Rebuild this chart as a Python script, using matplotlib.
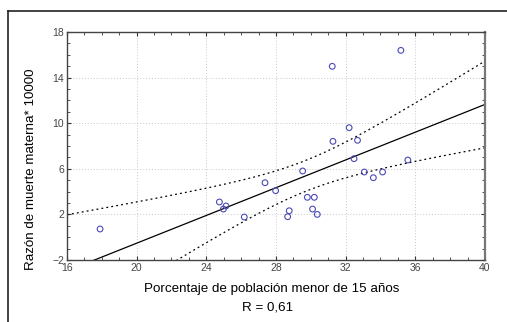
import numpy as np
import matplotlib
matplotlib.use("Agg")
import matplotlib.pyplot as plt
from matplotlib.ticker import MultipleLocator
from matplotlib.lines import Line2D

plt.rcParams['font.family'] = ['Liberation Sans', 'DejaVu Sans']

# porcentaje de poblacion menor de 15 anos / razon de muerte materna
pct = [17.9, 24.75, 24.98, 25.13, 26.18, 27.37, 27.98, 28.67, 28.76, 29.53,
       29.80, 30.10, 30.20, 30.37, 31.23, 31.27, 32.20, 32.48, 32.68, 33.07,
       33.59, 34.12, 35.17, 35.57]
razon = [0.72, 3.09, 2.47, 2.74, 1.77, 4.78, 4.08, 1.80, 2.32, 5.81,
         3.50, 2.47, 3.50, 2.00, 14.99, 8.41, 9.61, 6.89, 8.50, 5.72,
         5.22, 5.72, 16.39, 6.77]
xticks = [16, 20, 24, 28, 32, 36, 40]
yticks = [-2, 2, 6, 10, 14, 18]

x = np.array(pct)
y = np.array(razon)
n = len(x)
b, a = np.polyfit(x, y, 1)
resid = y - (a + b * x)
s = np.sqrt(np.sum(resid ** 2) / (n - 2))
t95 = 2.074  # t(0.975, 22)
xs = np.linspace(16, 40, 200)
fit = a + b * xs
se = s * np.sqrt(1 / n + (xs - x.mean()) ** 2 / np.sum((x - x.mean()) ** 2))

fig = plt.figure(figsize=(5.07, 3.22), dpi=100)
ax = fig.add_axes([0.1321, 0.1925, 0.8245, 0.7081])

ax.plot(xs, fit, color='black', lw=0.9)
ax.plot(xs, fit + t95 * se, color='black', lw=0.9, ls=(0, (1.5, 2.5)))
ax.plot(xs, fit - t95 * se, color='black', lw=0.9, ls=(0, (1.5, 2.5)))
ax.scatter(x, y, s=17, facecolors='none', edgecolors='#4a4ab4', linewidths=0.8, zorder=3)

ax.set_xlim(16, 40)
ax.set_ylim(-2, 18)
ax.set_xticks(xticks)
ax.set_yticks(yticks)
ax.xaxis.set_minor_locator(MultipleLocator(1))
ax.yaxis.set_minor_locator(MultipleLocator(1))
ax.grid(True, which='major', color='#c8c8c8', ls=(0, (1, 2)), lw=0.7)
ax.tick_params(which='both', direction='in', top=True, right=True, color='#333333')
ax.tick_params(which='major', length=3, labelsize=7.5, labelcolor='#444444', pad=2)
ax.tick_params(which='minor', length=2)
for sp in ax.spines.values():
    sp.set_color('#444444')
    sp.set_linewidth(1.0)
ax.spines['right'].set_linewidth(1.6)
ax.spines['right'].set_color('#777777')

ax.set_xlabel('Porcentaje de población menor de 15 años', fontsize=9.6, va='center')
ax.xaxis.set_label_coords(0.49, -0.127)
ax.set_ylabel('Razón de muerte materna* 10000', fontsize=9.6, va='center')
ax.yaxis.set_label_coords(-0.086, 0.40)
fig.text(268 / 507, 1 - 307 / 322, 'R = 0,61', fontsize=9.6, ha='center', va='center')

# partial outer frame
fig.add_artist(Line2D([8 / 507, 1.0], [1 - 11 / 322] * 2, color='#222222', lw=1.2))
fig.add_artist(Line2D([8 / 507] * 2, [0.0, 1 - 11 / 322], color='#222222', lw=1.2))

fig.savefig('out.png', dpi=100)
